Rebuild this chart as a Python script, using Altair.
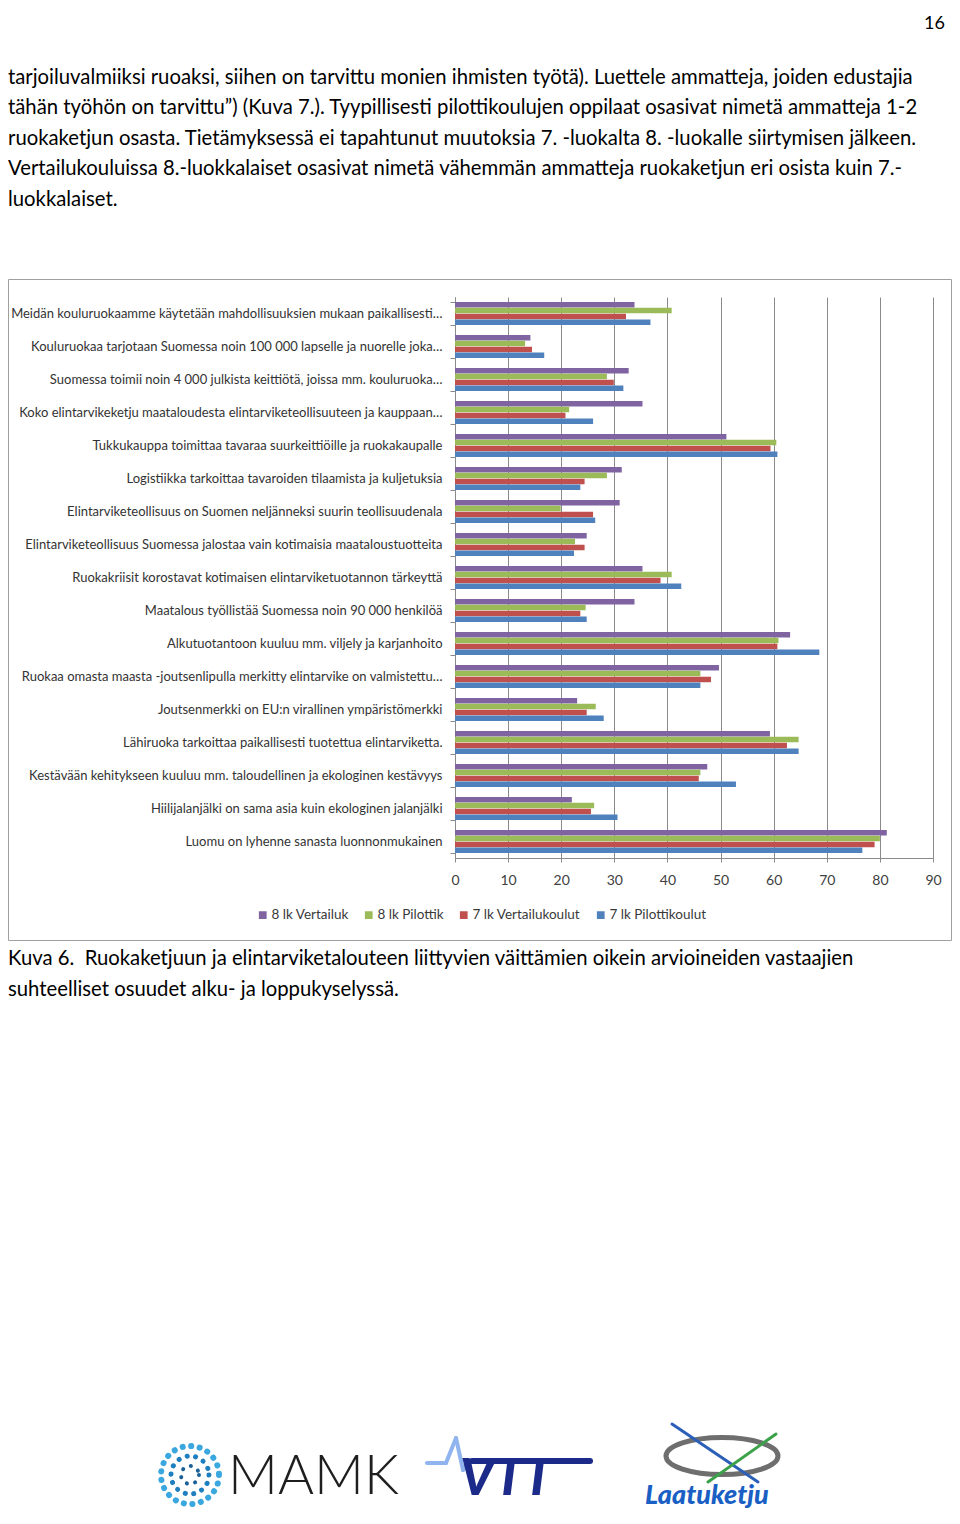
import altair as alt
import pandas as pd

# ---------------- data ----------------
categories = [
    "Meidän kouluruokaamme käytetään mahdollisuuksien mukaan paikallisesti…",
    "Kouluruokaa tarjotaan Suomessa noin 100 000 lapselle ja nuorelle joka…",
    "Suomessa toimii noin 4 000 julkista keittiötä, joissa mm. kouluruoka…",
    "Koko elintarvikeketju maataloudesta elintarviketeollisuuteen ja kauppaan…",
    "Tukkukauppa toimittaa tavaraa suurkeittiöille ja ruokakaupalle",
    "Logistiikka tarkoittaa tavaroiden tilaamista ja kuljetuksia",
    "Elintarviketeollisuus on Suomen neljänneksi suurin teollisuudenala",
    "Elintarviketeollisuus Suomessa jalostaa vain kotimaisia maataloustuotteita",
    "Ruokakriisit korostavat kotimaisen elintarviketuotannon tärkeyttä",
    "Maatalous työllistää Suomessa noin 90 000 henkilöä",
    "Alkutuotantoon kuuluu mm. viljely ja karjanhoito",
    "Ruokaa omasta maasta -joutsenlipulla merkitty elintarvike on valmistettu…",
    "Joutsenmerkki on EU:n virallinen ympäristömerkki",
    "Lähiruoka tarkoittaa paikallisesti tuotettua elintarviketta.",
    "Kestävään kehitykseen kuuluu mm. taloudellinen ja ekologinen kestävyys",
    "Hiilijalanjälki on sama asia kuin ekologinen jalanjälki",
    "Luomu on lyhenne sanasta luonnonmukainen",
]
series = ["8 lk Vertailuk", "8 lk Pilottik", "7 lk Vertailukoulut", "7 lk Pilottikoulut"]
vert8 = [33.8, 14.2, 32.7, 35.3, 51.1, 31.4, 31.0, 24.8, 35.3, 33.8, 63.1, 49.7, 23.0, 59.3, 47.5, 22.0, 81.3]
pilot8 = [40.8, 13.2, 28.6, 21.5, 60.5, 28.6, 19.9, 22.6, 40.8, 24.6, 60.9, 46.2, 26.5, 64.7, 46.2, 26.2, 80.0]
vert7 = [32.2, 14.5, 29.9, 20.8, 59.4, 24.4, 26.0, 24.4, 38.7, 23.6, 60.7, 48.2, 24.8, 62.5, 45.9, 25.6, 79.0]
pilot7 = [36.8, 16.8, 31.7, 26.0, 60.7, 23.6, 26.4, 22.4, 42.6, 24.8, 68.6, 46.2, 28.0, 64.7, 52.9, 30.6, 76.7]
x_ticks = [0, 10, 20, 30, 40, 50, 60, 70, 80, 90]

body_lines = [
    "tarjoiluvalmiiksi ruoaksi, siihen on tarvittu monien ihmisten työtä). Luettele ammatteja, joiden edustajia",
    "tähän työhön on tarvittu”) (Kuva 7.). Tyypillisesti pilottikoulujen oppilaat osasivat nimetä ammatteja 1-2",
    "ruokaketjun osasta. Tietämyksessä ei tapahtunut muutoksia 7. -luokalta 8. -luokalle siirtymisen jälkeen.",
    "Vertailukouluissa 8.-luokkalaiset osasivat nimetä vähemmän ammatteja ruokaketjun eri osista kuin 7.-",
    "luokkalaiset.",
]
caption_lines = [
    "Kuva 6.\u00a0\u00a0Ruokaketjuun ja elintarviketalouteen liittyvien väittämien oikein arvioineiden vastaajien",
    "suhteelliset osuudet alku- ja loppukyselyssä.",
]
page_number = "16"

colors = ["#8064A2", "#9BBB59", "#C0504D", "#4F81BD"]

rows = []
for name, vals in zip(series, [vert8, pilot8, vert7, pilot7]):
    for c, v in zip(categories, vals):
        rows.append({"category": c, "series": name, "value": v})
df = pd.DataFrame(rows)

# ---------------- layout helpers (plot origin at page (455, 297)) ----------------
OX, OY = 455, 297


def px(x):
    return x - OX


def py(y):
    return y - OY


FONT = "Lato"


def text_layer(txt, x, y, size, align="left", baseline="middle", color="#000000",
               weight="normal", style="normal", font=FONT):
    return alt.Chart(pd.DataFrame({"t": [txt]})).mark_text(
        align=align, baseline=baseline, fontSize=size, font=font, color=color,
        fontWeight=weight, fontStyle=style,
    ).encode(x=alt.value(px(x)), y=alt.value(py(y)), text="t:N")


def rule_layer(x1, y1, x2, y2, color, width):
    return alt.Chart(pd.DataFrame({"a": [0]})).mark_rule(
        color=color, strokeWidth=width, strokeCap="round"
    ).encode(x=alt.value(px(x1)), y=alt.value(py(y1)), x2=alt.value(px(x2)), y2=alt.value(py(y2)))


# ---------------- bar chart ----------------
bars = alt.Chart(df).mark_bar().encode(
    x=alt.X(
        "value:Q",
        scale=alt.Scale(domain=[0, 90], nice=False, zero=True),
        axis=alt.Axis(
            values=x_ticks, title=None, grid=True, gridColor="#8a8a8a", gridWidth=1,
            domainColor="#8a8a8a", tickColor="#8a8a8a", tickSize=4, labelFlush=False,
            labelFont=FONT, labelFontSize=14, labelColor="#404040", labelPadding=11,
        ),
    ),
    y=alt.Y(
        "category:N", sort=categories,
        scale=alt.Scale(paddingInner=0.3, paddingOuter=0.15),
        axis=alt.Axis(
            title=None, tickBand="extent", grid=False, labelLimit=480,
            labelFont=FONT, labelFontSize=13, labelColor="#333333", labelPadding=8,
            tickSize=5, tickColor="#8a8a8a", domainColor="#8a8a8a",
        ),
    ),
    yOffset=alt.YOffset("series:N", sort=series, scale=alt.Scale(paddingInner=0.05)),
    color=alt.Color(
        "series:N",
        scale=alt.Scale(domain=series, range=colors),
        legend=alt.Legend(
            orient="none", legendX=px(256), legendY=py(915) - 7, direction="horizontal",
            title=None, symbolType="square", symbolSize=60, symbolStrokeWidth=0,
            labelFont=FONT, labelFontSize=13.5, labelColor="#3a3a3a",
            columnPadding=13, labelOffset=2, padding=0,
        ),
    ),
)

frame = alt.Chart(pd.DataFrame({"a": [0]})).mark_rect(
    fill=None, stroke="#a0a0a0", strokeWidth=1
).encode(x=alt.value(px(8.5)), x2=alt.value(px(951.5)), y=alt.value(py(279.5)), y2=alt.value(py(940.5)))

layers = [frame, bars]

# page number
layers.append(text_layer(page_number, 945, 24, 18, align="right"))

# body text
body_y = [78, 108, 139, 169, 200]
for line, yy in zip(body_lines, body_y):
    layers.append(text_layer(line, 8, yy, 20.3))

# caption
for line, yy in zip(caption_lines, [959, 990]):
    layers.append(text_layer(line, 8, yy, 20.3))

# ---------------- logos (approximations) ----------------
# MAMK dotted sphere
for d, col, sw in [(58, "#3aa7df", 6), (38, "#1d7fbf", 5), (18, "#1b5f95", 4)]:
    layers.append(
        alt.Chart(pd.DataFrame({"a": [0]})).mark_point(
            shape="circle", filled=False, size=d * d, stroke=col, strokeWidth=sw,
            strokeDash=[0.1, 8.5], strokeCap="round", opacity=1,
        ).encode(x=alt.value(px(190)), y=alt.value(py(1475)))
    )
layers.append(text_layer("MAMK", 228, 1477, 55, color="#1e1e1e", weight=300))

# VTT
layers.append(rule_layer(427, 1463, 446, 1463, "#8fb4ee", 4))
layers.append(rule_layer(446, 1463, 456, 1438, "#8fb4ee", 4))
layers.append(rule_layer(456, 1438, 463, 1470, "#8fb4ee", 4))
layers.append(rule_layer(463, 1470, 470, 1461, "#8fb4ee", 4))
layers.append(rule_layer(472, 1461, 590, 1461, "#1c2a8a", 6))
layers.append(text_layer("VTT", 460, 1479, 52, color="#1c2a8a", weight=900, style="italic"))

# Laatuketju plate icon
plate = "M -1 0 A 1 0.33 0 1 1 1 0 A 1 0.33 0 1 1 -1 0 Z"
layers.append(
    alt.Chart(pd.DataFrame({"a": [0]})).mark_point(
        shape=plate, filled=False, size=112 * 112, stroke="#6e6e6e", strokeWidth=5, opacity=1,
    ).encode(x=alt.value(px(722)), y=alt.value(py(1456)))
)
layers.append(rule_layer(672, 1424, 758, 1482, "#2b5fb8", 3))
layers.append(rule_layer(776, 1434, 708, 1482, "#3ca24a", 3))
layers.append(text_layer("Laatuketju", 645, 1496, 27, color="#1a5fc4", weight=900, style="italic"))

chart = alt.layer(*layers).properties(
    width=478,
    height=561,
    autosize=alt.AutoSizeParams(type="none"),
    padding={"left": 447, "top": 289, "right": 19, "bottom": 655},
    background="white",
).configure_view(stroke=None)

chart.save("out.html", embed_options={"renderer": "svg", "actions": False})
